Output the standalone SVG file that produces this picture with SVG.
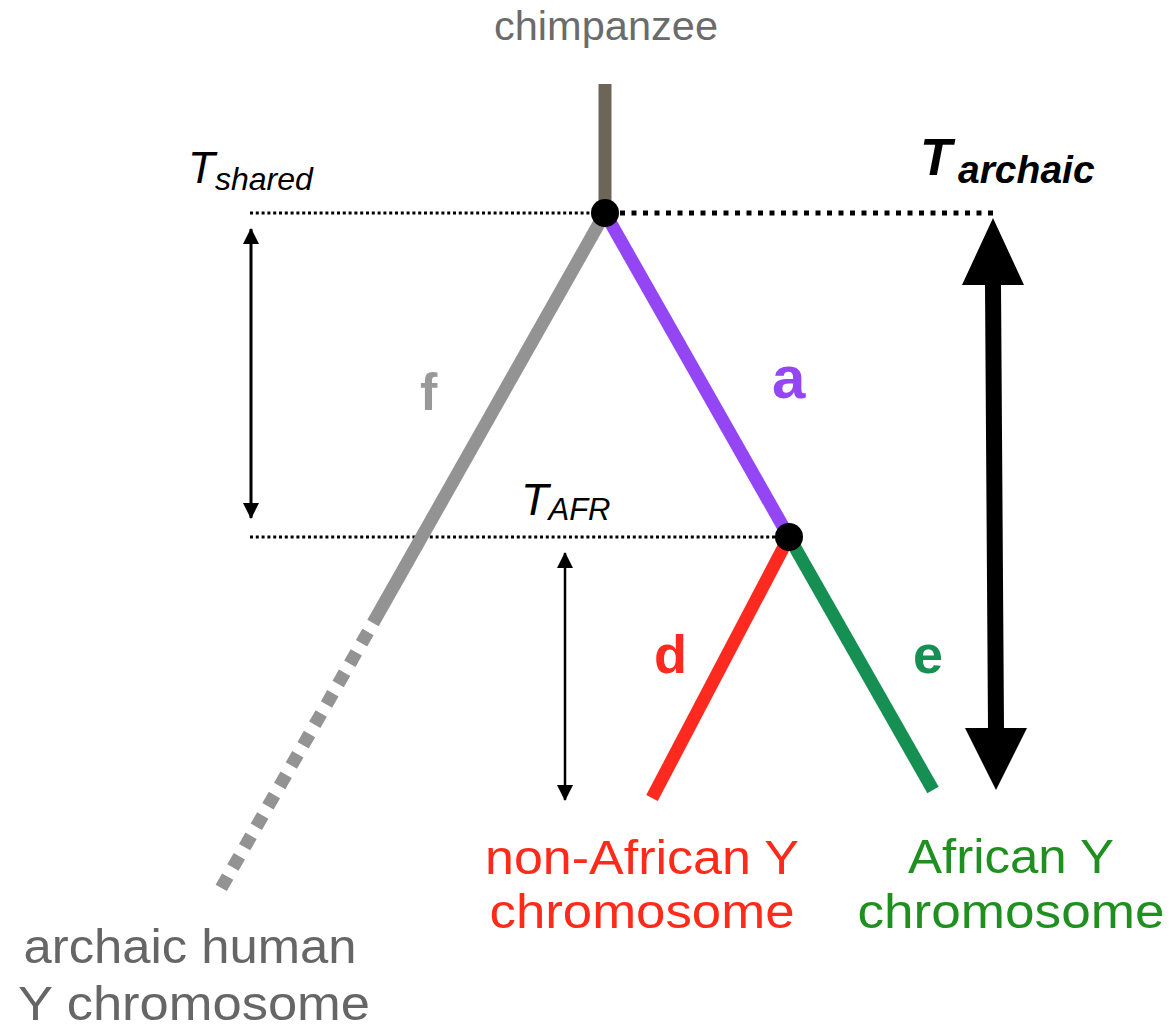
<svg xmlns="http://www.w3.org/2000/svg" width="1173" height="1033" viewBox="0 0 1173 1033">
<style>
text{font-family:"Liberation Sans",Arial,sans-serif}
.br{fill:none;stroke-width:13;stroke-linecap:butt}
.lab{font-weight:bold}
.thin{stroke:#000;stroke-width:3;stroke-dasharray:3 2.8;fill:none}
.thick{stroke:#000;stroke-width:5;stroke-dasharray:5 6.5;fill:none}
.tick{stroke:#000;fill:none}
.T{font-style:italic;fill:#000}
.leaf{font-size:48px;text-anchor:middle}
</style>
<defs>
<marker id="ah" markerUnits="userSpaceOnUse" markerWidth="16" markerHeight="16" refX="15" refY="8" orient="auto-start-reverse" viewBox="0 0 16 16">
<path d="M0,0 L16,8 L0,16 z" fill="#000"/>
</marker>
</defs>
<rect width="1173" height="1033" fill="#fff"/>

<g id="guides">
<line class="thin" x1="250" y1="213" x2="592" y2="213"/>
<line class="thick" x1="620" y1="213" x2="995" y2="213"/>
<line class="thin" x1="250" y1="537" x2="776" y2="537"/>
</g>

<g id="connectors">
<line class="br" x1="605" y1="84" x2="605" y2="213" stroke="#6d6658"/>
<line class="br" x1="605" y1="213" x2="373" y2="623" stroke="#939393"/>
<line class="br" x1="368" y1="632" x2="220" y2="890" stroke="#939393" stroke-dasharray="13 10.5"/>
<line class="br" x1="605" y1="213" x2="789" y2="537" stroke="#9446f5"/>
<line class="br" x1="789" y1="537" x2="652" y2="798" stroke="#ff2a1f"/>
<line class="br" x1="789" y1="537" x2="933" y2="790" stroke="#168f52"/>
</g>

<g id="time-arrows">
<line class="tick" x1="251" y1="229" x2="251" y2="518" stroke-width="3" marker-start="url(#ah)" marker-end="url(#ah)"/>
<line class="tick" x1="565" y1="553" x2="565" y2="800" stroke-width="2.5" marker-start="url(#ah)" marker-end="url(#ah)"/>
<polygon points="993,218 1024,285 1001,285 1004,728 1027,728 996,790 965,728 988,728 985,285 962,285" fill="#000"/>
</g>

<g id="node-root"><circle cx="605" cy="213" r="14" fill="#000"/></g>
<g id="node-afr"><circle cx="789" cy="537" r="14" fill="#000"/></g>

<g id="leaf-chimp"><text x="606" y="40" font-size="40" fill="#6b6b6b" text-anchor="middle" textLength="224" lengthAdjust="spacingAndGlyphs">chimpanzee</text></g>
<g id="leaf-archaic">
<text class="leaf" x="190" y="963" fill="#666" textLength="333" lengthAdjust="spacingAndGlyphs">archaic human</text>
<text class="leaf" x="194" y="1020" fill="#666" textLength="352" lengthAdjust="spacingAndGlyphs">Y chromosome</text>
</g>
<g id="leaf-nonafrican">
<text class="leaf" x="642" y="874" fill="#ff2a1a" textLength="314" lengthAdjust="spacingAndGlyphs">non-African Y</text>
<text class="leaf" x="642" y="928" fill="#ff2a1a" textLength="305" lengthAdjust="spacingAndGlyphs">chromosome</text>
</g>
<g id="leaf-african">
<text class="leaf" x="1011" y="873" fill="#1f8f1f" textLength="206" lengthAdjust="spacingAndGlyphs">African Y</text>
<text class="leaf" x="1011" y="928" fill="#1f8f1f" textLength="307" lengthAdjust="spacingAndGlyphs">chromosome</text>
</g>

<g id="branch-labels">
<text class="lab" x="420" y="410" font-size="52" fill="#999">f</text>
<text class="lab" x="772" y="398" font-size="60" fill="#9446f5">a</text>
<text class="lab" x="654" y="673" font-size="54" fill="#ff2a1f">d</text>
<text class="lab" x="913" y="673" font-size="54" fill="#168f52">e</text>
</g>

<g id="time-labels">
<text class="T" x="188" y="183" font-size="44">T<tspan font-size="32" dy="7">shared</tspan></text>
<text class="T" x="521" y="515" font-size="45">T<tspan font-size="31" dy="5">AFR</tspan></text>
<text class="T" x="920" y="175" font-size="52" font-weight="bold">T<tspan x="958" font-size="39" dy="8">archaic</tspan></text>
</g>
</svg>
